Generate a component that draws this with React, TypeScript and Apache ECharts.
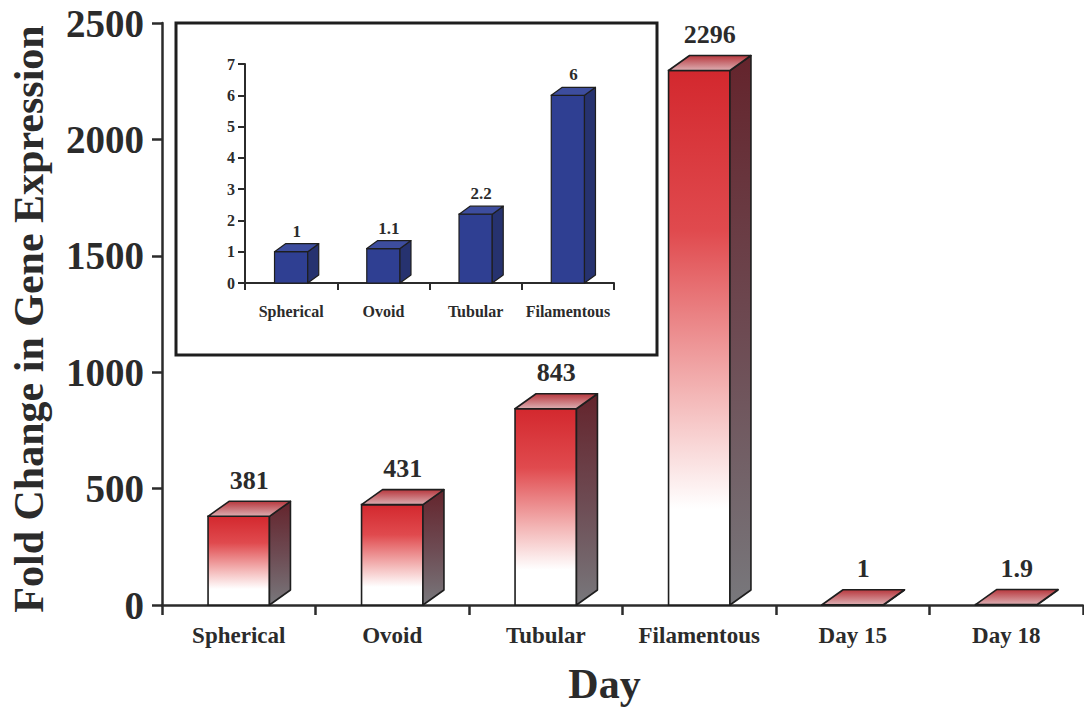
import React, { useEffect, useRef } from 'react';
import * as echarts from 'echarts';

// Main panel: fold change per stage / day
const stages = ['Spherical', 'Ovoid', 'Tubular', 'Filamentous', 'Day 15', 'Day 18'];
const foldChange = [381, 431, 843, 2296, 1, 1.9];

// Inset panel: fold change across the four morphological stages
const insetStages = ['Spherical', 'Ovoid', 'Tubular', 'Filamentous'];
const insetFold = [1, 1.1, 2.2, 6];

const mainAxisMax = 2500;
const mainAxisStep = 500;
const insetAxisMax = 7;
const insetAxisStep = 1;

const SERIF = "'Liberation Serif', 'Times New Roman', 'DejaVu Serif', serif";
const INK = '#2b2b2b';

type BoxStyle = {
  ratio: number;
  dx: number;
  dy: number;
  gap: number;
  fontSize: number;
  front: () => any;
  top: () => any;
  side: () => any;
  lineWidth: number;
};

const LG = echarts.graphic.LinearGradient;

// Builds a renderItem that draws each value as an extruded (3‑D) box with a value label.
function boxRenderer(s: BoxStyle) {
  return (params: any, api: any) => {
    const cat = api.value(0);
    const val = api.value(1);
    const base = api.coord([cat, 0]);
    const tip = api.coord([cat, val]);
    const band = api.size([1, 0])[0];
    const w = band * s.ratio;
    const x0 = base[0] - w / 2;
    const x1 = base[0] + w / 2;
    const yb = base[1];
    const yt = tip[1];
    const { dx, dy } = s;
    const stroke = '#1e1e1e';
    return {
      type: 'group',
      children: [
        {
          type: 'rect',
          shape: { x: x0, y: yt, width: w, height: Math.max(yb - yt, 0.01) },
          style: { fill: s.front(), stroke, lineWidth: s.lineWidth },
        },
        {
          type: 'polygon',
          shape: { points: [[x1, yb], [x1 + dx, yb - dy], [x1 + dx, yt - dy], [x1, yt]] },
          style: { fill: s.side(), stroke, lineWidth: s.lineWidth, lineJoin: 'round' },
        },
        {
          type: 'polygon',
          shape: { points: [[x0, yt], [x1, yt], [x1 + dx, yt - dy], [x0 + dx, yt - dy]] },
          style: { fill: s.top(), stroke, lineWidth: s.lineWidth, lineJoin: 'round' },
        },
        {
          type: 'text',
          style: {
            text: String(val),
            x: base[0] + dx / 2,
            y: yt - dy - s.gap,
            align: 'center',
            verticalAlign: 'bottom',
            fontFamily: SERIF,
            fontWeight: 'bold',
            fontSize: s.fontSize,
            fill: INK,
          },
        },
      ],
    };
  };
}

const redBox: BoxStyle = {
  ratio: 0.4,
  dx: 21,
  dy: 15,
  gap: 8,
  fontSize: 26,
  lineWidth: 1.6,
  front: () =>
    new LG(0, 0, 0, 1, [
      { offset: 0, color: '#d3282e' },
      { offset: 0.3, color: '#e04a4e' },
      { offset: 0.6, color: '#f3b4b4' },
      { offset: 0.82, color: '#ffffff' },
      { offset: 1, color: '#ffffff' },
    ]),
  top: () =>
    new LG(0, 0, 0, 1, [
      { offset: 0, color: '#b8383e' },
      { offset: 1, color: '#dcaeb2' },
    ]),
  side: () =>
    new LG(0, 0, 0, 1, [
      { offset: 0, color: '#64242c' },
      { offset: 0.5, color: '#6d4a52' },
      { offset: 1, color: '#78787c' },
    ]),
};

const blueBox: BoxStyle = {
  ratio: 0.36,
  dx: 11,
  dy: 8,
  gap: 4,
  fontSize: 17,
  lineWidth: 1.2,
  front: () => '#2f3f92',
  top: () => '#3d4d9e',
  side: () => '#26326f',
};

export default function App() {
  const ref = useRef<HTMLDivElement>(null);

  useEffect(() => {
    if (!ref.current) return;
    const chart = echarts.init(ref.current, undefined, { renderer: 'svg' });

    const axisLine = (width: number) => ({ show: true, lineStyle: { color: INK, width } });

    chart.setOption({
      animation: false,
      backgroundColor: '#ffffff',
      grid: [
        { left: 162, right: 1, top: 23, bottom: 105 },
        { left: 245, right: 470, top: 64, bottom: 427 },
      ],
      xAxis: [
        {
          type: 'category',
          gridIndex: 0,
          data: stages,
          boundaryGap: true,
          axisLine: axisLine(2.5),
          axisTick: { show: true, inside: false, length: 10, interval: 0, lineStyle: { color: INK, width: 2.5 } },
          axisLabel: {
            interval: 0,
            margin: 19,
            fontFamily: SERIF,
            fontWeight: 'bold',
            fontSize: 23,
            color: INK,
          },
          name: 'Day',
          nameLocation: 'middle',
          nameGap: 58,
          nameTextStyle: {
            fontFamily: SERIF,
            fontWeight: 'bold',
            fontSize: 42,
            color: INK,
            padding: [0, 36, 0, 0],
          },
        },
        {
          type: 'category',
          gridIndex: 1,
          data: insetStages,
          boundaryGap: true,
          axisLine: axisLine(2),
          axisTick: { show: true, inside: false, length: 7, interval: 0, lineStyle: { color: INK, width: 2 } },
          axisLabel: {
            interval: 0,
            margin: 20,
            fontFamily: SERIF,
            fontWeight: 'bold',
            fontSize: 16,
            color: INK,
          },
        },
      ],
      yAxis: [
        {
          type: 'value',
          gridIndex: 0,
          min: 0,
          max: mainAxisMax,
          interval: mainAxisStep,
          axisLine: axisLine(2.5),
          axisTick: { show: true, inside: false, length: 10, lineStyle: { color: INK, width: 2.5 } },
          splitLine: { show: false },
          axisLabel: {
            margin: 18,
            formatter: (v: number) => String(v),
            fontFamily: SERIF,
            fontWeight: 'bold',
            fontSize: 39,
            color: INK,
          },
          name: 'Fold Change in Gene Expression',
          nameLocation: 'middle',
          nameRotate: 90,
          nameGap: 112,
          nameTextStyle: {
            fontFamily: SERIF,
            fontWeight: 'bold',
            fontSize: 42,
            color: INK,
            padding: [0, 10, 0, 0],
          },
        },
        {
          type: 'value',
          gridIndex: 1,
          min: 0,
          max: insetAxisMax,
          interval: insetAxisStep,
          axisLine: axisLine(2),
          axisTick: { show: true, inside: false, length: 7, lineStyle: { color: INK, width: 2 } },
          splitLine: { show: false },
          axisLabel: {
            margin: 10,
            fontFamily: SERIF,
            fontWeight: 'bold',
            fontSize: 16,
            color: INK,
          },
        },
      ],
      graphic: [
        {
          type: 'rect',
          shape: { x: 176, y: 23, width: 481, height: 332 },
          style: { fill: 'transparent', stroke: '#1e1e1e', lineWidth: 3 },
          z: 0,
        },
      ],
      series: [
        {
          type: 'custom',
          name: 'Fold change',
          xAxisIndex: 0,
          yAxisIndex: 0,
          encode: { x: 0, y: 1 },
          data: stages.map((_, i) => [i, foldChange[i]]),
          renderItem: boxRenderer(redBox),
          z: 3,
        },
        {
          type: 'custom',
          name: 'Fold change (inset)',
          xAxisIndex: 1,
          yAxisIndex: 1,
          encode: { x: 0, y: 1 },
          data: insetStages.map((_, i) => [i, insetFold[i]]),
          renderItem: boxRenderer(blueBox),
          z: 3,
        },
      ],
    });

    return () => chart.dispose();
  }, []);

  return (
    <div
      ref={ref}
      style={{ position: 'absolute', left: 0, top: 0, width: 1084, height: 710, background: '#fff' }}
    />
  );
}
